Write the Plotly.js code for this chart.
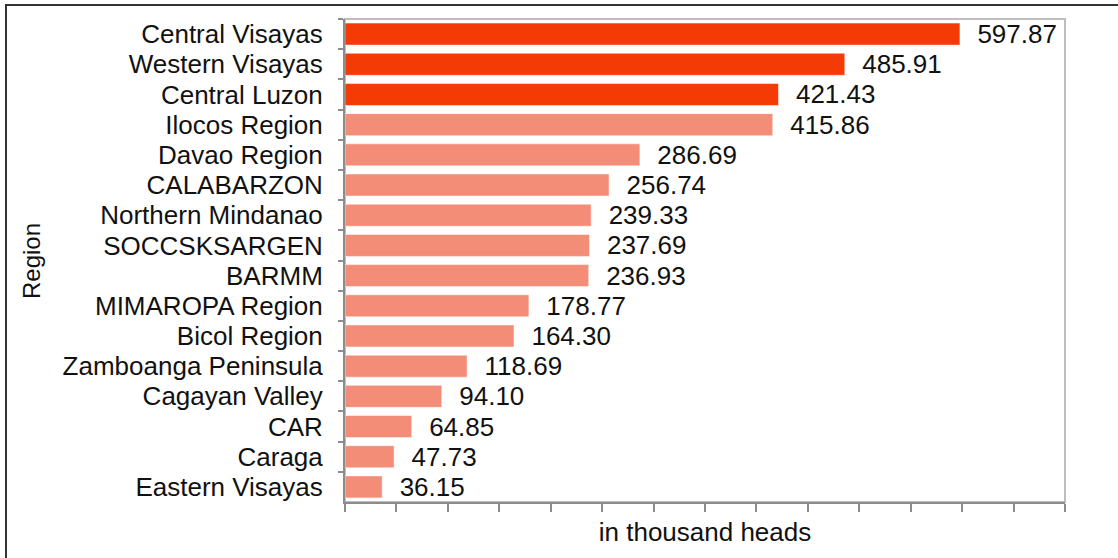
<!DOCTYPE html>
<html>
<head>
<meta charset="utf-8">
<script src="https://cdn.plot.ly/plotly-3.0.1.min.js"></script>
<style>
  html, body { margin: 0; padding: 0; background: #ffffff; }
  #chart { width: 1118px; height: 558px; }
</style>
</head>
<body>
<div id="chart"></div>
<script>
// Regional inventory, in thousand heads
const regions = [
  "Central Visayas", "Western Visayas", "Central Luzon", "Ilocos Region",
  "Davao Region", "CALABARZON", "Northern Mindanao", "SOCCSKSARGEN",
  "BARMM", "MIMAROPA Region", "Bicol Region", "Zamboanga Peninsula",
  "Cagayan Valley", "CAR", "Caraga", "Eastern Visayas"
];
const heads = [
  597.87, 485.91, 421.43, 415.86,
  286.69, 256.74, 239.33, 237.69,
  236.93, 178.77, 164.30, 118.69,
  94.10, 64.85, 47.73, 36.15
];
const topCount = 3;

const W = 1118, H = 558;
const M = { l: 345, r: 53, t: 19, b: 56 };
const plotW = W - M.l - M.r;
const plotH = H - M.t - M.b;
const px2x = p => (p - M.l) / plotW;
const px2y = p => (H - M.b - p) / plotH;

const barColors = regions.map((_, i) => i < topCount ? "#f43a05" : "#f38d77");
const FONT = "Liberation Sans, Arial, sans-serif";

const trace = {
  type: "bar",
  orientation: "h",
  y: regions,
  x: heads,
  marker: { color: barColors, line: { color: "#ffffff", width: 0.5 } },
  texttemplate: "\u00a0\u00a0%{x:.2f}",
  textposition: "outside",
  textfont: { family: FONT, size: 26, color: "#111111" },
  cliponaxis: false,
  hoverinfo: "skip"
};

const layout = {
  width: W, height: H,
  margin: M,
  paper_bgcolor: "#ffffff",
  plot_bgcolor: "#ffffff",
  showlegend: false,
  bargap: 0.27,
  uniformtext: { mode: "show", minsize: 26 },
  font: { family: FONT, size: 26, color: "#111111" },
  xaxis: {
    range: [0, 700],
    dtick: 50,
    tick0: 0,
    showgrid: false,
    zeroline: false,
    showline: true,
    linecolor: "#8c8c8c",
    linewidth: 2,
    ticks: "outside",
    ticklen: 8,
    tickwidth: 2,
    tickcolor: "#8c8c8c",
    showticklabels: false,
    automargin: false,
    title: { text: "in thousand heads", font: { family: FONT, size: 26, color: "#111111" }, standoff: 12 }
  },
  yaxis: {
    type: "category",
    autorange: "reversed",
    tickmode: "linear",
    tick0: 0,
    dtick: 1,
    showgrid: false,
    zeroline: false,
    showline: true,
    linecolor: "#8c8c8c",
    linewidth: 2,
    ticks: "outside",
    tickson: "boundaries",
    ticklen: 5,
    tickwidth: 2,
    tickcolor: "#8c8c8c",
    ticklabelstandoff: 15,
    tickfont: { family: FONT, size: 26, color: "#111111" },
    automargin: false
  },
  shapes: [
    // plot frame
    { type: "rect", xref: "paper", yref: "paper", x0: 0, x1: 1, y0: 0, y1: 1,
      line: { color: "#bdbdbd", width: 2 }, layer: "below" },
    // outer border
    { type: "rect", xref: "paper", yref: "paper",
      x0: px2x(6), x1: px2x(W + 20), y0: px2y(H + 20), y1: px2y(5),
      line: { color: "#333333", width: 2 }, layer: "above" }
  ],
  annotations: [
    { text: "Region", xref: "paper", yref: "paper", x: px2x(31), y: px2y(261),
      textangle: -90, showarrow: false, xanchor: "center", yanchor: "middle",
      font: { family: FONT, size: 24, color: "#111111" } }
  ]
};

Plotly.newPlot("chart", [trace], layout, { staticPlot: true, displayModeBar: false });
</script>
</body>
</html>
